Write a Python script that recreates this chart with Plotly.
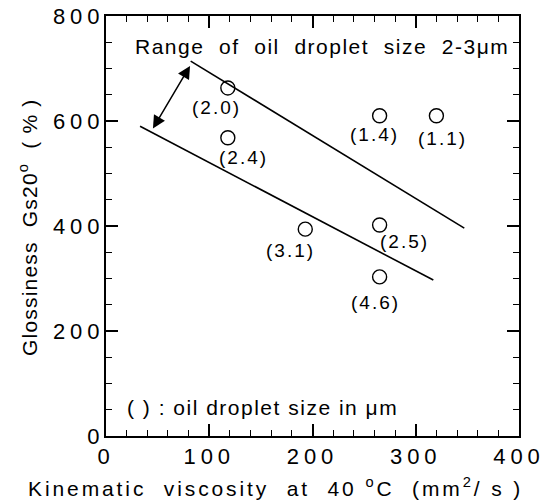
import plotly.graph_objects as go

# Data
viscosity = [118, 118, 265, 320, 193, 265, 265]
gloss = [663, 568, 610, 610, 394, 402, 303]
droplet_labels = ["(2.0)", "(2.4)", "(1.4)", "(1.1)", "(3.1)", "(2.5)", "(4.6)"]
label_shift_x = [-11, 16, -5, 6, -15, 25, -4]
label_shift_y = [-20, -20, -19, -23, -21, -17, -26]

upper_x = [82, 347]
upper_y = [714, 396]
lower_x = [33, 317]
lower_y = [590, 297]

arrow_start = (44.6, 583)
arrow_end = (81.4, 705)

x_ticks = [0, 100, 200, 300, 400]
y_ticks = [0, 200, 400, 600, 800]

FONT = "Liberation Sans, Arial, Helvetica, sans-serif"


def ls(text, px):
    return f'<span style="letter-spacing:{px}px">{text}</span>'


fig = go.Figure()

fig.add_trace(go.Scatter(x=upper_x, y=upper_y, mode="lines",
                         line=dict(color="black", width=1.6), showlegend=False))
fig.add_trace(go.Scatter(x=lower_x, y=lower_y, mode="lines",
                         line=dict(color="black", width=1.6), showlegend=False))
fig.add_trace(go.Scatter(x=viscosity, y=gloss, mode="markers",
                         marker=dict(symbol="circle-open", size=14, color="black",
                                     line=dict(width=1.4, color="black")),
                         showlegend=False))

annotations = []
for xv, yv, lab, sx, sy in zip(viscosity, gloss, droplet_labels, label_shift_x, label_shift_y):
    annotations.append(dict(x=xv, y=yv, xref="x", yref="y", text=ls(lab, 2),
                            showarrow=False, xshift=sx, yshift=sy,
                            font=dict(family=FONT, size=19, color="black")))

# double-headed arrow
annotations.append(dict(x=arrow_end[0], y=arrow_end[1], ax=arrow_start[0], ay=arrow_start[1],
                        xref="x", yref="y", axref="x", ayref="y", text="",
                        showarrow=True, arrowhead=2, startarrowhead=2, arrowside="end+start",
                        arrowsize=1.7, startarrowsize=1.7, arrowwidth=1.5, arrowcolor="black"))

annotations.append(dict(x=(133 - 106) / 413, y=(436 - 47) / 420, xref="paper", yref="paper",
                        xanchor="left", yanchor="middle", showarrow=False,
                        text=ls("Range  of  oil  droplet  size  2-3μm", 1.5),
                        font=dict(family=FONT, size=21, color="black")))
annotations.append(dict(x=(125 - 106) / 413, y=(436 - 407) / 420, xref="paper", yref="paper",
                        xanchor="left", yanchor="middle", showarrow=False,
                        text=ls("( ) : oil droplet size in μm", 1.5),
                        font=dict(family=FONT, size=21, color="black")))

# axis titles
annotations.append(dict(x=(275 - 106) / 413, y=(436 - 487) / 420, xref="paper", yref="paper",
                        xanchor="center", yanchor="middle", showarrow=False,
                        text=ls("Kinematic  viscosity  at  40 <sup>o</sup>C  (mm<sup>2</sup>/ s )", 2.9),
                        font=dict(family=FONT, size=21, color="black")))
annotations.append(dict(x=(28 - 106) / 413, y=(436 - 227) / 420, xref="paper", yref="paper",
                        xanchor="center", yanchor="middle", showarrow=False, textangle=-90,
                        text=ls("Glossiness  Gs20<sup>o</sup>  ( % )", 1.2),
                        font=dict(family=FONT, size=21, color="black")))

fig.update_layout(
    width=552, height=501,
    margin=dict(l=106, r=33, t=16, b=65),
    paper_bgcolor="white", plot_bgcolor="white",
    annotations=annotations,
    font=dict(family=FONT, color="black"),
)

axis_common = dict(showline=True, linecolor="black", linewidth=2, mirror="ticks",
                   ticks="inside", ticklen=12, tickwidth=1.6, tickcolor="black",
                   showgrid=False, zeroline=False, automargin=False,
                   ticklabeloverflow="allow",
                   tickfont=dict(family=FONT, size=22, color="black"))

fig.update_xaxes(range=[0, 400], tickvals=x_ticks,
                 ticktext=[ls(str(v), 5) for v in x_ticks], ticklabelstandoff=0,
                 minor=dict(ticks="inside", dtick=20, ticklen=6, tickwidth=1.2, tickcolor="black"),
                 **axis_common)
fig.update_yaxes(range=[0, 800], tickvals=y_ticks,
                 ticktext=[ls(str(v), 5) for v in y_ticks], ticklabelstandoff=-5,
                 minor=dict(ticks="inside", dtick=50, ticklen=6, tickwidth=1.2, tickcolor="black"),
                 **axis_common)

fig.write_html("out.html", config={"displayModeBar": False},
               post_script="document.body.style.margin='0';")
